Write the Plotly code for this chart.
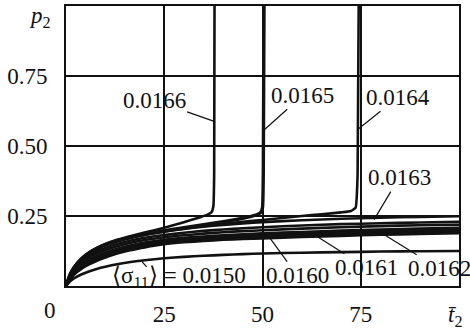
import plotly.graph_objects as go

# time grid shared by the stable curves
t_grid = [0, 1, 2, 4, 6, 8, 10, 13, 16, 20, 25, 30, 35, 40, 45, 50, 60, 70, 80, 90, 100]

p_0150 = [0, 0.016, 0.027, 0.042, 0.053, 0.062, 0.069, 0.078, 0.085, 0.092, 0.099, 0.104, 0.108, 0.111, 0.114, 0.116, 0.119, 0.121, 0.123, 0.124, 0.125]
p_0160 = [0, 0.024, 0.040, 0.062, 0.078, 0.091, 0.102, 0.116, 0.127, 0.138, 0.149, 0.156, 0.161, 0.165, 0.168, 0.170, 0.175, 0.179, 0.183, 0.186, 0.189]
p_band_a = [0, 0.025, 0.042, 0.065, 0.081, 0.095, 0.106, 0.120, 0.131, 0.142, 0.153, 0.160, 0.165, 0.169, 0.172, 0.174, 0.179, 0.183, 0.187, 0.190, 0.193]
p_0161 = [0, 0.026, 0.043, 0.067, 0.084, 0.098, 0.109, 0.123, 0.134, 0.146, 0.156, 0.163, 0.168, 0.172, 0.176, 0.178, 0.183, 0.187, 0.191, 0.194, 0.197]
p_band_b = [0, 0.028, 0.046, 0.071, 0.089, 0.103, 0.114, 0.128, 0.139, 0.151, 0.161, 0.168, 0.173, 0.177, 0.181, 0.183, 0.188, 0.192, 0.196, 0.199, 0.202]
p_0162 = [0, 0.029, 0.048, 0.074, 0.093, 0.108, 0.119, 0.133, 0.144, 0.155, 0.165, 0.172, 0.177, 0.181, 0.185, 0.188, 0.193, 0.198, 0.202, 0.205, 0.208]
p_band_mid = [0, 0.032, 0.053, 0.082, 0.102, 0.117, 0.128, 0.142, 0.153, 0.164, 0.174, 0.181, 0.187, 0.192, 0.196, 0.199, 0.205, 0.210, 0.214, 0.217, 0.219]
p_0163 = [0, 0.035, 0.058, 0.089, 0.110, 0.125, 0.136, 0.150, 0.161, 0.172, 0.182, 0.190, 0.197, 0.202, 0.206, 0.210, 0.216, 0.221, 0.224, 0.227, 0.229]
p_band_top = [0, 0.038, 0.063, 0.095, 0.117, 0.133, 0.145, 0.159, 0.170, 0.182, 0.194, 0.204, 0.212, 0.218, 0.223, 0.228, 0.235, 0.240, 0.244, 0.247, 0.249]

# unstable curves (blow-up)
t_0164 = [0, 1, 2, 4, 6, 8, 10, 13, 16, 20, 25, 30, 35, 40, 45, 50, 55, 60, 65, 70, 72.5, 73.7, 74.2, 74.5]
p_0164 = [0, 0.039, 0.064, 0.097, 0.119, 0.135, 0.147, 0.161, 0.172, 0.183, 0.195, 0.205, 0.214, 0.222, 0.229, 0.236, 0.243, 0.250, 0.256, 0.263, 0.268, 0.280, 0.400, 1.05]
t_0165 = [0, 1, 2, 4, 6, 8, 10, 13, 16, 20, 25, 30, 35, 40, 45, 48, 49.5, 50, 50.2, 50.4]
p_0165 = [0, 0.040, 0.065, 0.098, 0.120, 0.136, 0.148, 0.162, 0.173, 0.185, 0.198, 0.208, 0.219, 0.230, 0.242, 0.252, 0.262, 0.280, 0.400, 1.05]
t_0166 = [0, 1, 2, 4, 6, 8, 10, 13, 16, 20, 25, 30, 34, 36, 37, 37.5, 37.7, 37.8]
p_0166 = [0, 0.041, 0.066, 0.099, 0.121, 0.137, 0.150, 0.165, 0.177, 0.191, 0.208, 0.228, 0.245, 0.255, 0.263, 0.285, 0.400, 1.05]

x_ticks = [25, 50, 75]
x_tick_text = ["25", "50", "75"]
y_ticks = [0.25, 0.50, 0.75]
y_tick_text = ["0.25", "0.50", "0.75"]

FONT = "Liberation Serif"
FS = 23
INK = "#111111"

fig = go.Figure()
stable = [p_0150, p_0160, p_band_a, p_0161, p_band_b, p_0162, p_band_mid, p_0163, p_band_top]
for p in stable:
    fig.add_trace(go.Scatter(x=t_grid, y=p, mode="lines", line=dict(color=INK, width=2.6, shape="spline", smoothing=0.6)))
for t, p, w in [(t_0164, p_0164, 2.6), (t_0165, p_0165, 3.4), (t_0166, p_0166, 2.6)]:
    fig.add_trace(go.Scatter(x=t, y=p, mode="lines", line=dict(color=INK, width=w, shape="spline", smoothing=0.4)))

ann = []
def label(text, x, y, ax, ay):
    ann.append(dict(x=x, y=y, ax=ax, ay=ay, xref="x", yref="y", axref="pixel", ayref="pixel",
                    text=text, showarrow=True, arrowhead=0, arrowwidth=1.2, arrowcolor=INK,
                    font=dict(family=FONT, size=FS, color=INK)))

# leader endpoints (data coords) and text offsets (pixels)
label("0.0166", 37.7, 0.588, -60, -21)
label("0.0165", 50.6, 0.56, 38, -34)
label("0.0164", 74.3, 0.56, 40, -32)
label("0.0163", 78.4, 0.237, 25, -42)
label("0.0162", 81.0, 0.183, 55, 34)
label("0.0161", 64.0, 0.176, 49, 31)
label("0.0160", 52.0, 0.169, 27, 37)

ann.append(dict(x=0.0, y=0.0, xref="paper", yref="paper", xanchor="left", yanchor="middle",
                xshift=44, yshift=9, showarrow=False,
                text="\u27e8\u03c3<sub>11</sub>\u27e9 = 0.0150",
                font=dict(family=FONT, size=FS, color=INK)))

# axis corner labels
ann.append(dict(x=0, y=0, xref="paper", yref="paper", xanchor="center", yanchor="middle",
                xshift=-16, yshift=-24, showarrow=False, text="0",
                font=dict(family=FONT, size=FS, color=INK)))
ann.append(dict(x=0, y=1, xref="paper", yref="paper", xanchor="right", yanchor="middle",
                xshift=-13, yshift=-11, showarrow=False, text="<i>p</i><sub>2</sub>",
                font=dict(family=FONT, size=FS, color=INK)))
ann.append(dict(x=1, y=0, xref="paper", yref="paper", xanchor="center", yanchor="middle",
                xshift=-4, yshift=-30, showarrow=False, text="<i>t\u0304</i><sub>2</sub>",
                font=dict(family=FONT, size=FS, color=INK)))

fig.update_layout(
    width=470, height=333,
    margin=dict(l=66, r=11, t=4, b=47),
    paper_bgcolor="white", plot_bgcolor="white",
    showlegend=False,
    annotations=ann,
    shapes=[dict(type="line", xref="x", yref="y", x0=19.3, y0=0.088, x1=20.5, y1=0.068,
                 line=dict(color=INK, width=1.2))],
    font=dict(family=FONT, size=FS, color=INK),
)
fig.update_xaxes(range=[0, 100], tickvals=x_ticks, ticktext=x_tick_text, showgrid=True,
                 gridcolor=INK, gridwidth=1.5, zeroline=False, showline=True, linecolor=INK,
                 linewidth=2, mirror=True, ticks="", ticklabelstandoff=6,
                 tickfont=dict(family=FONT, size=FS, color=INK))
fig.update_yaxes(range=[0, 1], tickvals=y_ticks, ticktext=y_tick_text, showgrid=True,
                 gridcolor=INK, gridwidth=1.5, zeroline=False, showline=True, linecolor=INK,
                 linewidth=2, mirror=True, ticks="", ticklabelstandoff=12,
                 tickfont=dict(family=FONT, size=FS, color=INK))

fig.write_html("out.html", config={"displayModeBar": False},
               post_script="document.body.style.margin='0';")
